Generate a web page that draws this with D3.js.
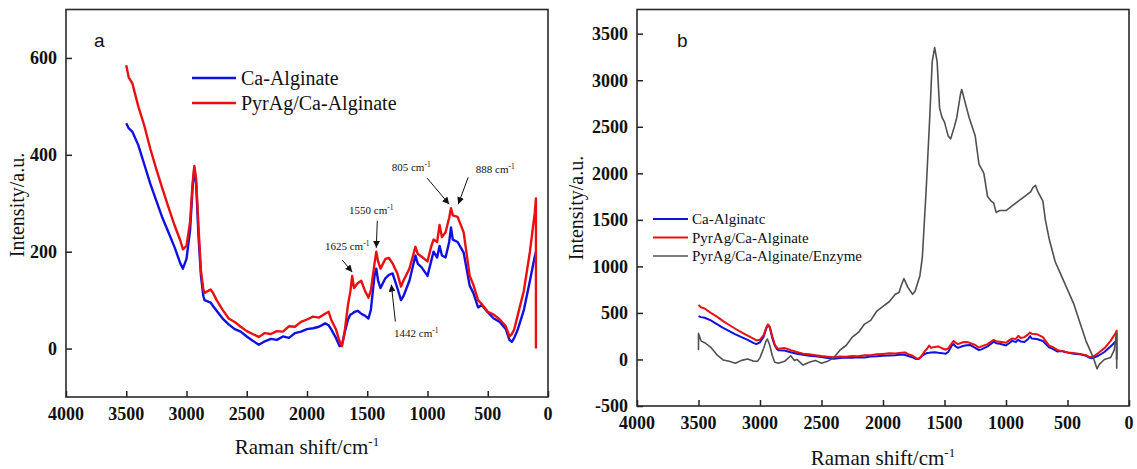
<!DOCTYPE html>
<html><head><meta charset="utf-8">
<script src="https://cdn.jsdelivr.net/npm/d3@7"></script>
<style>
body{margin:0;background:#fff;}
svg{display:block;}
</style></head>
<body>
<svg id="chart" width="1137" height="469"></svg>
<script>
// ---------- DATA ----------
const shiftAB = [3500,3480,3450,3400,3350,3300,3250,3200,3150,3100,3050,3030,3000,2970,2950,2935,2920,2900,2880,2860,2850,2800,2780,2750,2700,2650,2600,2550,2500,2450,2400,2350,2300,2250,2200,2150,2100,2050,2000,1950,1900,1850,1820,1800,1760,1730,1710,1690,1660,1640,1625,1610,1580,1550,1520,1490,1470,1440,1425,1410,1390,1350,1320,1290,1250,1220,1200,1150,1100,1080,1050,1000,970,950,920,900,880,850,820,805,790,750,700,650,620,580,550,500,450,400,350,320,300,280,250,200,150,110,100,100];
const caAlginate = [465,455,448,420,380,340,305,270,240,210,175,165,185,245,330,372,340,230,150,108,100,95,88,78,62,50,40,35,25,16,8,15,20,18,25,22,32,35,40,42,45,52,48,40,22,5,8,30,60,70,72,75,78,72,68,62,80,150,165,140,125,145,152,155,125,100,108,140,192,175,168,150,180,200,188,212,192,188,220,250,225,220,198,130,115,85,90,75,62,55,40,18,14,22,40,80,140,190,200,200];
const pyrAgCaAlginate = [585,560,548,500,460,412,370,330,292,255,222,205,212,262,340,377,350,250,160,122,115,122,115,100,80,62,55,45,36,30,24,32,30,36,35,46,45,55,60,66,64,72,76,60,40,15,5,30,90,118,150,125,135,140,120,105,120,175,200,180,165,185,187,176,155,128,140,165,210,195,190,180,210,225,220,255,230,240,270,290,275,272,240,150,132,100,92,76,70,60,46,25,30,40,70,120,200,280,310,0];
const shiftEnz = [3500,3500,3480,3450,3400,3350,3300,3250,3200,3150,3100,3050,3020,3000,2970,2950,2940,2920,2900,2880,2850,2800,2750,2720,2700,2650,2600,2550,2500,2450,2400,2350,2300,2250,2200,2150,2100,2050,2000,1950,1900,1870,1850,1830,1800,1760,1740,1700,1680,1650,1620,1600,1580,1560,1540,1520,1500,1470,1450,1420,1400,1370,1360,1340,1300,1250,1220,1200,1180,1150,1120,1100,1080,1050,1000,950,900,850,800,780,760,740,700,680,650,620,600,550,500,450,400,350,300,280,260,240,200,150,120,105,100,100];
const pyrAgEnzyme = [100,280,200,180,130,50,-5,-20,-40,-10,5,-20,-20,20,120,200,220,150,40,-30,-40,-20,40,-10,0,-60,-30,-10,-40,-20,20,100,150,240,290,380,420,520,570,620,700,720,800,870,780,700,730,900,1100,1800,2600,3200,3350,3200,2700,2600,2550,2400,2370,2500,2600,2850,2900,2800,2600,2400,2100,2050,2000,1750,1700,1680,1580,1600,1600,1650,1700,1750,1800,1850,1870,1800,1700,1500,1300,1150,1050,900,750,600,400,200,50,-20,-100,-50,0,20,100,250,280,-100];

const xTicks = [4000,3500,3000,2500,2000,1500,1000,500,0];
const yTicksA = [0,200,400,600];
const yTicksB = [-500,0,500,1000,1500,2000,2500,3000,3500];
const legendA = ["Ca-Alginate","PyrAg/Ca-Alginate"];
const legendB = ["Ca-Alginatc","PyrAg/Ca-Alginate","PyrAg/Ca-Alginate/Enzyme"];
const annLabels = ["1625","1550","805","888","1442"];
const annShift  = [1625,1425,820,745,1300];
const annValue  = [158,208,298,298,132];

// ---------- LAYOUT ----------
const svg = d3.select("#chart");
const serif = "Liberation Serif";
const sans = "Liberation Sans";
const BLUE = "#1010e0", RED = "#e81010", GRAY = "#505050";

function tickText(sel){
  sel.attr("font-family",serif).attr("font-size",18).attr("font-weight","bold").attr("fill","#111");
}

function panel(opts){
  const g = svg.append("g");
  const x = d3.scaleLinear().domain([4000,0]).range([opts.left, opts.right]);
  const y = d3.scaleLinear().domain(opts.yDomain).range([opts.bottom, opts.top]);
  const ax = g.append("g").attr("transform",`translate(0,${opts.bottom})`)
    .call(d3.axisBottom(x).tickValues(xTicks).tickSizeInner(-6).tickSizeOuter(0).tickFormat(""));
  const ay = g.append("g").attr("transform",`translate(${opts.left},0)`)
    .call(d3.axisLeft(y).tickValues(opts.yTicks).tickSizeInner(-6).tickSizeOuter(0).tickFormat(""));
  [ax,ay].forEach(a=>{
    a.select(".domain").remove();
    a.selectAll(".tick text").remove();
    a.selectAll(".tick line").attr("stroke","#222").attr("stroke-width",1.5);
  });
  g.selectAll("text.xl").data(xTicks).join("text").attr("class","xl")
    .attr("x",d=>x(d)).attr("y",opts.bottom+23).attr("text-anchor","middle").text(d=>String(d)).call(tickText);
  g.selectAll("text.yl").data(opts.yTicks).join("text").attr("class","yl")
    .attr("x",opts.left-9).attr("y",d=>y(d)).attr("dy","0.35em").attr("text-anchor","end").text(d=>String(d)).call(tickText);
  g.append("rect").attr("x",opts.left).attr("y",opts.top)
    .attr("width",opts.right-opts.left).attr("height",opts.bottom-opts.top)
    .attr("fill","none").attr("stroke","#2a2a2a").attr("stroke-width",1.6);
  const xt = g.append("text").attr("x",(opts.left+opts.right)/2).attr("y",opts.xTitleY)
    .attr("text-anchor","middle").attr("font-family",serif).attr("font-size",21).attr("fill","#111");
  xt.append("tspan").text("Raman shift/cm");
  xt.append("tspan").attr("dy",-8).attr("font-size",13).text("-1");
  g.append("text").attr("transform",`translate(${opts.yTitleX},${opts.yTitleCY}) rotate(-90)`)
    .attr("text-anchor","middle").attr("font-family",serif).attr("font-size",20).attr("fill","#111")
    .text("Intensity/a.u.");
  g.append("text").attr("x",opts.letterX).attr("y",47).attr("font-family",sans).attr("font-size",19)
    .attr("fill","#111").text(opts.letter);
  return {g,x,y};
}

function drawLine(p, xs, ys, color, w){
  const line = d3.line().x(d=>p.x(d[0])).y(d=>p.y(d[1]));
  p.g.append("path").datum(xs.map((v,i)=>[v,ys[i]]))
    .attr("d",line).attr("fill","none").attr("stroke",color)
    .attr("stroke-width",w).attr("stroke-linejoin","round");
}

// ---------- PANEL A ----------
const A = panel({left:66,right:548,top:9.5,bottom:397,yDomain:[-100,700],yTicks:yTicksA,
  xTitleY:454,yTitleX:24,yTitleCY:205,letter:"a",letterX:94});
drawLine(A, shiftAB, caAlginate, BLUE, 2.4);
drawLine(A, shiftAB, pyrAgCaAlginate, RED, 2.4);

[BLUE,RED].forEach((c,i)=>{
  const yy = 78 + i*25;
  A.g.append("line").attr("x1",192).attr("x2",236).attr("y1",yy).attr("y2",yy).attr("stroke",c).attr("stroke-width",2.5);
  A.g.append("text").attr("x",241).attr("y",yy).attr("dy","0.35em").attr("font-family",serif)
    .attr("font-size",20).attr("fill","#111").text(legendA[i]);
});

svg.append("defs").append("marker").attr("id","arr").attr("viewBox","0 0 10 10")
  .attr("refX",10).attr("refY",5).attr("markerWidth",7).attr("markerHeight",7)
  .attr("markerUnits","userSpaceOnUse").attr("orient","auto")
  .append("path").attr("d","M0,0 L10,5 L0,10 z").attr("fill","#111");
const annOffsets = [[-5,-22,-10,-12],[-5,-34,1,-27],[-38,-33,-22,-26],[37,-31,10,-27],[25,52,4,37]];
annLabels.forEach((lab,i)=>{
  const tx = A.x(annShift[i]), ty = A.y(annValue[i]);
  const o = annOffsets[i];
  A.g.append("line").attr("x1",tx+o[2]).attr("y1",ty+o[3]).attr("x2",tx).attr("y2",ty)
    .attr("stroke","#111").attr("stroke-width",1).attr("marker-end","url(#arr)");
  const t = A.g.append("text").attr("x",tx+o[0]).attr("y",ty+o[1]).attr("text-anchor","middle")
    .attr("font-family",serif).attr("font-size",11).attr("fill","#111");
  t.append("tspan").text(lab+" cm");
  t.append("tspan").attr("dy",-4).attr("font-size",7.5).text("-1");
});

// ---------- PANEL B ----------
const B = panel({left:637,right:1129,top:9.5,bottom:406,yDomain:[-500,3760],yTicks:yTicksB,
  xTitleY:465,yTitleX:583,yTitleCY:208,letter:"b",letterX:677});
drawLine(B, shiftAB, caAlginate, BLUE, 2);
drawLine(B, shiftAB, pyrAgCaAlginate, RED, 2);
drawLine(B, shiftEnz, pyrAgEnzyme, GRAY, 1.6);

[BLUE,RED,GRAY].forEach((c,i)=>{
  const yy = 219 + i*18.5;
  B.g.append("line").attr("x1",653).attr("x2",688).attr("y1",yy).attr("y2",yy).attr("stroke",c).attr("stroke-width",c===GRAY?1.6:2.2);
  B.g.append("text").attr("x",692).attr("y",yy).attr("dy","0.35em").attr("font-family",serif)
    .attr("font-size",15).attr("fill","#111").text(legendB[i]);
});
</script>
</body></html>
